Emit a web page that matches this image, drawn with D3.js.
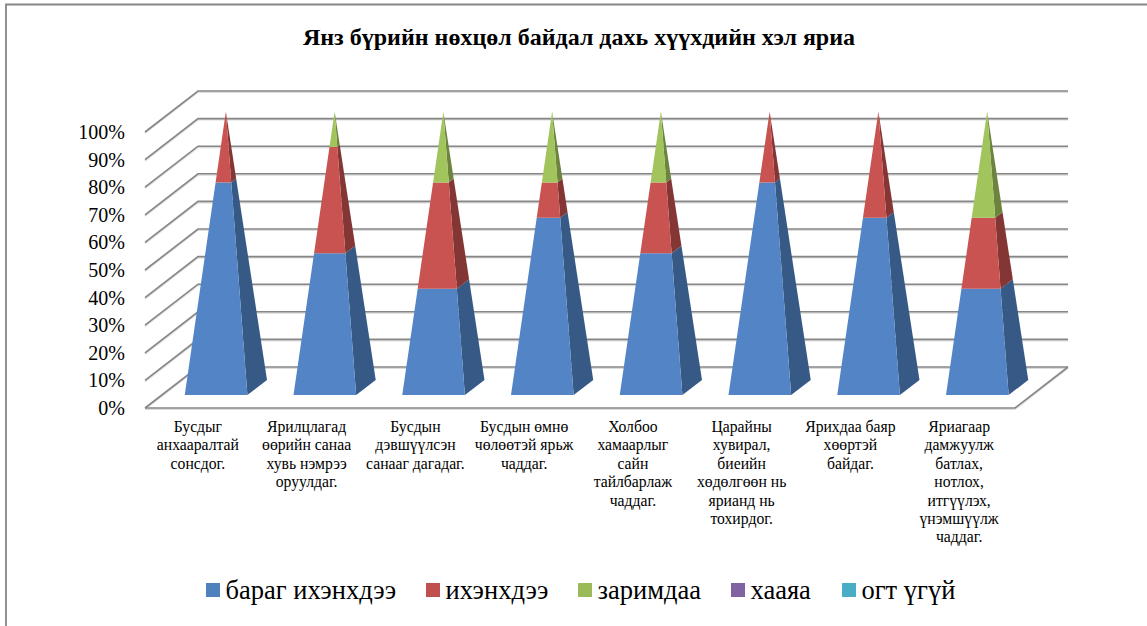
<!DOCTYPE html>
<html>
<head>
<meta charset="utf-8">
<script src="https://cdn.jsdelivr.net/npm/d3@7"></script>
<style>
  html, body { margin: 0; padding: 0; background: #fff; overflow: hidden; }
  text { font-family: "Liberation Serif", serif; fill: #000; }
</style>
</head>
<body>
<div id="chart"></div>
<script>
var chartTitle = "Янз бүрийн нөхцөл байдал дахь хүүхдийн хэл яриа";

var categories = [
    ["Бусдыг", "анхааралтай", "сонсдог."],
    ["Ярилцлагад", "өөрийн санаа", "хувь нэмрээ", "оруулдаг."],
    ["Бусдын", "дэвшүүлсэн", "санааг дагадаг."],
    ["Бусдын өмнө", "чөлөөтэй ярьж", "чаддаг."],
    ["Холбоо", "хамаарлыг", "сайн", "тайлбарлаж", "чаддаг."],
    ["Царайны", "хувирал,", "биеийн", "хөдөлгөөн нь", "ярианд нь", "тохирдог."],
    ["Ярихдаа баяр", "хөөртэй", "байдаг."],
    ["Яриагаар", "дамжуулж", "батлах,", "нотлох,", "итгүүлэх,", "үнэмшүүлж", "чаддаг."]
];

var seriesNames = ["бараг ихэнхдээ", "ихэнхдээ", "заримдаа", "хааяа", "огт үгүй"];

// percent of the stack
var baragIhenhdee = [75, 50, 37.5, 62.5, 50, 75, 62.5, 37.5];
var ihenhdee = [25, 37.5, 37.5, 12.5, 25, 25, 37.5, 25];
var zarimdaa = [0, 12.5, 25, 25, 25, 0, 0, 37.5];
var haaya = [0, 0, 0, 0, 0, 0, 0, 0];
var ogtUgui = [0, 0, 0, 0, 0, 0, 0, 0];

var yTicks = [0, 10, 20, 30, 40, 50, 60, 70, 80, 90, 100];

var legendColors = ["#4F81BD", "#C0504D", "#9BBB59", "#8064A2", "#4BACC6"];
var frontColors = ["#5385C6", "#C85350", "#A2C45C", "#8064A2", "#4BACC6"];
var sideColors = ["#365A85", "#843635", "#6C843E", "#554370", "#2F7285"];

var allSeries = [baragIhenhdee, ihenhdee, zarimdaa, haaya, ogtUgui];

var svg_width = 1147, svg_height = 626;
var svg = d3.select("#chart").append("svg")
    .attr("width", svg_width)
    .attr("height", svg_height);

svg.append("rect").attr("width", svg_width).attr("height", svg_height).attr("fill", "#fff");

// outer chart frame, runs off the top right and bottom left of the crop
svg.append("path")
    .attr("d", d3.line()([[6, svg_height], [6, 4.5], [svg_width, 4.5]]))
    .attr("fill", "none")
    .attr("stroke", "#868686")
    .attr("stroke-width", 1.8);

svg.append("text")
    .attr("x", 579)
    .attr("y", 45)
    .attr("text-anchor", "middle")
    .attr("font-size", 24)
    .attr("font-weight", "bold")
    .text(chartTitle);

var x = d3.scaleBand().domain(d3.range(categories.length)).range([145, 1015]);
var y = d3.scaleLinear().domain([0, 100]).range([408, 132]);
// depth into the box: 0 is the front edge of the floor, 1 the back wall
var depthX = d3.scaleLinear().domain([0, 1]).range([0, 53]);
var depthY = d3.scaleLinear().domain([0, 1]).range([0, -41]);

function project(px, value, depth) {
    return [px + depthX(depth), y(value) + depthY(depth)];
}

function gridLine(points, g) {
    // soft shadow under each line
    g.append("path")
        .attr("d", d3.line()(points.map(function(p) { return [p[0], p[1] + 1.2]; })))
        .attr("fill", "none")
        .attr("stroke", "#dcdcdc")
        .attr("stroke-width", 1.6);
    g.append("path")
        .attr("d", d3.line()(points))
        .attr("fill", "none")
        .attr("stroke", "#868686")
        .attr("stroke-width", 1.6);
}

var grid = svg.append("g").attr("class", "grid");
yTicks.forEach(function(t) {
    gridLine([project(x.range()[0], t, 0), project(x.range()[0], t, 1), project(x.range()[1], t, 1)], grid);
});
// floor outline
gridLine([project(x.range()[0], 0, 0), project(x.range()[1], 0, 0), project(x.range()[1], 0, 1)], grid);

var yAxis = svg.append("g").attr("class", "axis axis--y");
yAxis.selectAll("text")
    .data(yTicks)
  .enter().append("text")
    .attr("x", 125)
    .attr("y", function(d) { return y(d) + 7; })
    .attr("text-anchor", "end")
    .attr("font-size", 20)
    .text(function(d) { return d + "%"; });

// pyramids, one per category, cut into stacked slices
var halfWidth = x.bandwidth() * 0.288;
var depthMid = 0.5, depthHalf = 0.185;

function corner(cx, value, side, depthSide) {
    var k = 1 - value / 100;
    return project(cx + side * halfWidth * k, value, depthMid + depthSide * depthHalf * k);
}

var pyramids = svg.append("g").attr("class", "pyramids");
categories.forEach(function(cat, i) {
    var cx = x(i) + x.bandwidth() / 2;
    var g = pyramids.append("g");
    var base = 0;
    allSeries.forEach(function(values, s) {
        var v = values[i];
        if (v <= 0) return;
        var top = base + v;
        g.append("path")
            .attr("d", d3.line()([corner(cx, base, 1, -1), corner(cx, base, 1, 1), corner(cx, top, 1, 1), corner(cx, top, 1, -1)]) + "Z")
            .attr("fill", sideColors[s]);
        g.append("path")
            .attr("d", d3.line()([corner(cx, base, -1, -1), corner(cx, base, 1, -1), corner(cx, top, 1, -1), corner(cx, top, -1, -1)]) + "Z")
            .attr("fill", frontColors[s]);
        base = top;
    });
});

var catLabels = svg.append("g").attr("class", "axis axis--x");
categories.forEach(function(lines, i) {
    var t = catLabels.append("text")
        .attr("text-anchor", "middle")
        .attr("font-size", 15.7);
    lines.forEach(function(line, j) {
        t.append("tspan")
            .attr("x", x(i) + x.bandwidth() / 2 - 1.5)
            .attr("y", 432 + j * 18.4)
            .text(line);
    });
});

// legend
var legendSwatchX = d3.scaleOrdinal().domain(seriesNames).range([206, 426, 578, 731, 842]);
var legend = svg.append("g").attr("class", "legend");
seriesNames.forEach(function(name, i) {
    var lx = legendSwatchX(name);
    legend.append("rect")
        .attr("x", lx)
        .attr("y", 583)
        .attr("width", 14)
        .attr("height", 14)
        .attr("fill", legendColors[i]);
    legend.append("text")
        .attr("x", lx + 19.5)
        .attr("y", 599)
        .attr("font-size", 26.5)
        .text(name);
});
</script>
</body>
</html>
